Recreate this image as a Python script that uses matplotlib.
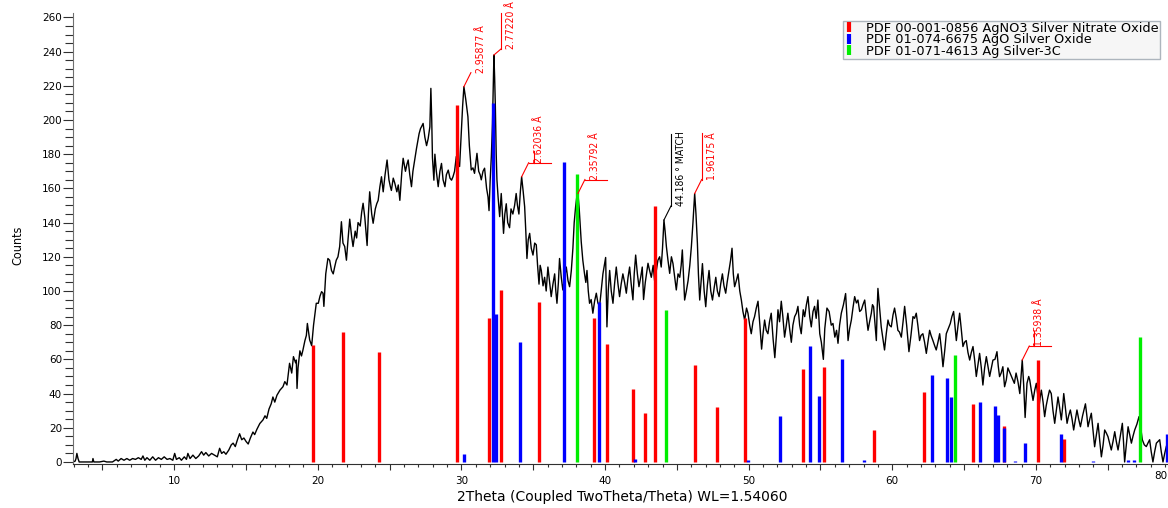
import matplotlib
matplotlib.use('Agg')
import matplotlib.pyplot as plt
from matplotlib.ticker import MultipleLocator, FuncFormatter
from matplotlib.lines import Line2D

# measured pattern (2theta in degrees, counts)
two_theta = [
    2.95, 3.1, 3.16, 3.22, 3.3, 3.38, 3.7, 4.0, 4.3, 4.34,
    4.4, 4.8, 5.1, 5.3, 5.7, 5.96, 6.1, 6.3, 6.5, 6.7,
    6.9, 7.1, 7.3, 7.5, 7.7, 7.82, 7.95, 8.1, 8.3, 8.5,
    8.7, 8.9, 9.1, 9.3, 9.5, 9.7, 9.9, 10.03, 10.15, 10.35,
    10.5, 10.7, 10.85, 10.95, 11.1, 11.3, 11.5, 11.7, 11.9, 12.05,
    12.2, 12.4, 12.6, 12.8, 13.0, 13.16, 13.3, 13.45, 13.6, 13.8,
    13.97, 14.1, 14.25, 14.4, 14.55, 14.7, 14.85, 15.0, 15.15, 15.3,
    15.48, 15.6, 15.75, 15.96,
    16.18, 16.32, 16.44, 16.6, 16.75, 16.87, 17.0, 17.15, 17.36, 17.57,
    17.7, 17.85, 18.03, 18.18, 18.3, 18.45, 18.5, 18.55, 18.62, 18.75,
    18.86, 18.96, 19.1, 19.2, 19.27, 19.35, 19.43, 19.57, 19.7, 19.8,
    19.89, 20.03, 20.15, 20.26, 20.36, 20.42, 20.55, 20.7, 20.82, 20.95,
    21.07, 21.17, 21.28, 21.4, 21.52, 21.64, 21.75, 21.87, 21.99, 22.1,
    22.22, 22.35, 22.45, 22.6, 22.7, 22.8, 22.95, 23.05, 23.15, 23.27,
    23.35, 23.43, 23.52, 23.61, 23.75, 23.85, 24.0, 24.1, 24.2, 24.32,
    24.43, 24.55, 24.68, 24.82, 24.95, 25.05, 25.12, 25.25, 25.36, 25.5,
    25.6, 25.71, 25.85, 25.94, 26.1, 26.2, 26.29, 26.4, 26.52, 26.62,
    26.75, 26.87, 26.97, 27.05, 27.15, 27.22, 27.33, 27.45, 27.57, 27.68,
    27.8, 27.87, 27.93, 27.98, 28.08, 28.15, 28.25, 28.38, 28.5, 28.61,
    28.72, 28.85, 28.95, 29.08, 29.2, 29.31, 29.41, 29.52, 29.64, 29.75,
    29.87, 30.0, 30.08, 30.17, 30.3, 30.45, 30.55, 30.68, 30.8, 30.91,
    31.0, 31.08, 31.2, 31.3, 31.38, 31.5, 31.61, 31.75, 31.85, 31.92,
    32.0, 32.08, 32.16, 32.2, 32.26, 32.31, 32.36, 32.42, 32.47, 32.55,
    32.66, 32.77, 32.85, 32.93, 33.02, 33.12, 33.22, 33.35, 33.45, 33.58,
    33.7, 33.81, 33.9, 34.0, 34.1, 34.19, 34.3, 34.4, 34.48, 34.56,
    34.65, 34.75, 34.86, 34.98, 35.1, 35.21, 35.3, 35.4, 35.48, 35.56,
    35.68, 35.79, 35.9, 36.02, 36.14, 36.25, 36.37, 36.49, 36.57, 36.65,
    36.75, 36.83, 36.95, 37.06, 37.18, 37.3, 37.42, 37.53, 37.65, 37.76,
    37.85, 37.95, 38.03, 38.11, 38.2, 38.34, 38.45, 38.57, 38.66, 38.74,
    38.83, 38.92, 39.03, 39.15, 39.27, 39.39, 39.5, 39.62, 39.73, 39.85,
    39.95, 40.04, 40.13, 40.22, 40.32, 40.43, 40.55, 40.66, 40.78, 40.9,
    41.01, 41.12, 41.24, 41.36, 41.48, 41.6, 41.71, 41.82, 41.94, 42.03,
    42.13, 42.25, 42.36, 42.48, 42.59, 42.68, 42.8, 42.99, 43.1, 43.22,
    43.35, 43.45, 43.57, 43.68, 43.8, 43.91, 44.0, 44.1, 44.18, 44.27,
    44.38, 44.5, 44.62, 44.73, 44.85, 44.96, 45.08, 45.2, 45.3, 45.38,
    45.46, 45.54, 45.66, 45.78, 45.9, 46.01, 46.12, 46.24, 46.33, 46.43,
    46.5, 46.59, 46.68, 46.78, 46.9, 47.01, 47.12, 47.24, 47.36, 47.48,
    47.6, 47.71, 47.82, 47.94, 48.05, 48.17, 48.28, 48.4, 48.5, 48.63,
    48.74, 48.84, 48.93, 49.02, 49.14, 49.26, 49.38, 49.49, 49.6, 49.72,
    49.85, 49.95, 50.07, 50.18, 50.3, 50.41, 50.53, 50.65, 50.78, 50.9,
    51.0, 51.11, 51.22, 51.34, 51.45, 51.57, 51.7, 51.82, 51.94, 52.04,
    52.15, 52.27, 52.38, 52.5, 52.62, 52.73, 52.85, 52.97, 53.08, 53.2,
    53.32, 53.43, 53.55, 53.66, 53.8, 53.9, 54.02, 54.13, 54.25, 54.36,
    54.48, 54.59, 54.7, 54.82, 54.95, 55.06, 55.2, 55.3, 55.45, 55.6,
    55.75, 55.87, 56.0, 56.12, 56.22, 56.33, 56.45, 56.6, 56.75, 56.84,
    56.92, 57.03, 57.15, 57.26, 57.38, 57.5, 57.61, 57.73, 57.85, 57.96,
    58.08, 58.2, 58.31, 58.42, 58.54, 58.62, 58.7, 58.8, 58.89, 58.95,
    59.0, 59.1, 59.23, 59.35, 59.46, 59.58, 59.7, 59.8, 59.93, 60.05,
    60.16, 60.28, 60.39, 60.5, 60.63, 60.75, 60.86, 61.0, 61.16, 61.3,
    61.44, 61.55, 61.67, 61.78, 61.9, 62.0, 62.13, 62.25, 62.37, 62.48,
    62.6, 62.7, 62.83, 62.95, 63.06, 63.18, 63.3, 63.42, 63.53, 63.65,
    63.76, 63.9, 64.04, 64.15, 64.27, 64.36, 64.46, 64.58, 64.69, 64.8,
    64.92, 65.03, 65.15, 65.27, 65.39, 65.5, 65.62, 65.73, 65.85, 65.97,
    66.08, 66.2, 66.31, 66.43, 66.55, 66.66, 66.78, 66.9, 67.01, 67.15,
    67.29, 67.38, 67.47, 67.58, 67.7, 67.82, 67.94, 68.05, 68.2, 68.35,
    68.5, 68.62, 68.75, 68.88, 68.97, 69.05, 69.15, 69.25, 69.38, 69.5,
    69.57, 69.68, 69.8, 69.92, 70.03, 70.12, 70.22, 70.3, 70.38, 70.5,
    70.61, 70.72, 70.84, 70.95, 71.07, 71.19, 71.31, 71.42, 71.54, 71.65,
    71.77, 71.86, 71.94, 72.05, 72.17, 72.28, 72.4, 72.52, 72.63, 72.75,
    72.86, 72.98, 73.1, 73.25, 73.45, 73.55, 73.63, 73.75, 73.86, 73.98,
    74.09, 74.2, 74.33, 74.45, 74.56, 74.68, 74.79, 74.9, 75.02, 75.13,
    75.25, 75.37, 75.49, 75.6, 75.72, 75.87, 76.02, 76.1, 76.18, 76.3,
    76.42, 76.53, 76.65, 76.76, 76.88, 77.03, 77.18, 77.3, 77.41, 77.55,
    77.69, 77.8, 77.92, 78.03, 78.15, 78.27, 78.39, 78.5, 78.62, 78.73,
    78.85, 78.97, 79.08, 79.2, 79.35, 79.5, 79.7, 80.0,
]
counts = [
    0, 0.5, 2, 5, 2, 0, 0, 0, 0, 2,
    0, 0, 0.5, 0, 0, 1.5, 0.5, 2, 1, 2,
    1, 2, 1.5, 2.5, 1.5, 3.5, 1, 2.5, 1, 3,
    1, 2.5, 1.5, 3, 1.5, 2, 1, 5, 1.5, 2.5,
    1, 3, 1.5, 5, 2, 4, 2, 3.5, 6, 4,
    5.5, 3.5, 5, 4, 3, 8, 5, 6, 4.5, 7,
    10, 11, 9, 13, 16.5, 13, 14, 12, 10.5, 14,
    17.5, 16, 19, 22.5,
    24.6, 27, 25.5, 31, 34, 38, 35, 39, 42, 44,
    47, 45, 57.7, 52, 61.6, 58, 59.6, 43, 55, 65,
    62, 65.4, 71, 74, 81, 76, 71.4, 68, 80, 87,
    92.8, 92.8, 97, 99.6, 98.7, 91, 110, 119, 118, 112,
    110, 114, 118, 120, 126, 140.5, 128, 126, 118, 130,
    142, 132, 126, 135, 131, 140, 138, 146, 151.3, 143,
    135, 126.6, 145, 158, 145, 139.6, 148, 151, 153, 161,
    166.8, 158, 168, 176.6, 165, 161, 158.8, 166, 163, 158,
    162, 153, 170, 177.6, 170, 174, 176.6, 168, 161, 170,
    177, 183.4, 188, 192, 195, 196.1, 198, 190, 185, 189,
    196, 218.5, 200, 178, 164.8, 180, 170, 161, 170, 174.6,
    165, 161, 168, 170.7, 166, 164.8, 166.8, 170, 178.6, 176,
    172.8, 195, 208, 219.5, 212, 201.9, 185, 170.8, 172, 168.8,
    175, 180.5, 170, 168, 165, 170, 171.8, 160, 155, 147,
    165, 178.6, 198, 215, 238, 225, 207.8, 180, 165, 155,
    143.5, 157, 145, 133.7, 145, 151, 140, 137, 148, 145,
    150, 157, 150, 145, 158, 166.8, 158, 149.3, 135, 119,
    130, 133.7, 125, 121, 128, 127, 115, 104, 115, 112,
    103, 108, 100, 114, 105, 96.7, 104, 110, 100, 92.8,
    105, 119, 108, 100.6, 108, 114, 106, 102.5, 112, 125,
    140, 149.3, 155, 157, 148, 128.8, 118, 110, 105, 112,
    100, 92.8, 95, 87, 94, 98.7, 93, 91, 100, 110,
    115, 119.6, 79, 100, 112, 100, 92.8, 104, 114, 104,
    96.7, 104, 110, 105, 98.7, 108, 114, 104, 94.8, 110,
    121, 110, 102.5, 108, 114, 95, 105, 116.2, 112, 108,
    115, 106, 112, 118, 120, 114, 125, 141.5, 135, 126,
    118, 110.3, 120, 116, 108, 100.6, 110, 108, 115, 124,
    110, 94.7, 100, 106, 115, 126, 140, 157, 145, 127.8,
    110, 94.7, 105, 116, 100, 90.8, 103, 112, 100, 94.7,
    102, 108, 100, 96.7, 104, 110, 103, 98.7, 105, 112,
    118, 125, 110, 102.5, 106, 110, 100, 94.7, 88, 83,
    90, 87, 80, 75, 82, 85, 90, 94, 80, 66,
    75, 83, 77, 75, 82, 87, 72, 61, 75, 89,
    82, 94, 85, 73, 80, 87, 78, 70, 80, 85,
    87, 91, 80, 75, 89, 85, 92, 96.7, 85, 79,
    88, 91, 84, 94.7, 75, 70, 60, 78, 90, 88,
    80, 81, 73, 77, 69.4, 80, 87, 92, 98.5, 85,
    71, 78, 83, 90, 96.7, 93, 94.7, 88, 89, 92,
    94.7, 85, 77, 82, 87, 92, 90.8, 80, 71, 90,
    101.5, 92, 79, 72, 65.5, 75, 83, 80, 79, 86,
    90, 84, 77, 76, 73, 82, 91, 80, 64.5, 74,
    85, 84, 87, 80, 71, 74, 75, 70, 63.5, 70,
    77, 74, 71, 68, 65.5, 70, 75, 66, 55.7, 65,
    75, 78, 81, 85, 88, 80, 71, 80, 87, 78,
    67.5, 70, 71, 64, 59.6, 64, 67.5, 60, 50, 57,
    63.5, 55, 45, 55, 61.6, 56, 50, 55, 59.6, 60,
    64.5, 56, 49.9, 52, 55.7, 44, 48, 55, 52, 49,
    46, 52, 47, 40, 50, 59.6, 45, 26, 46, 50,
    48, 42, 36, 42, 46, 40, 32.3, 38, 42, 35,
    26.5, 33, 38, 42, 40, 30, 22.6, 30, 38, 32,
    24.6, 32, 40, 32, 22.6, 27, 30.4, 25, 18.7, 25,
    30.4, 25, 20.6, 27, 34, 27, 20.6, 25, 28.5, 18,
    8.9, 15, 22.6, 12, 3, 10, 18.7, 17, 14.8, 11,
    7, 12, 17.7, 12, 7, 15, 22.6, 12, 0, 10,
    20.6, 16, 11, 15, 18.7, 22, 26.5, 20, 13, 10,
    9, 11, 13, 6, 0, 6, 11, 12, 13, 6,
    0, 5, 9, 12, 6, 10, 4, 8,
]

# reference sticks
agno3_pos = [19.64, 21.75, 24.25, 29.71, 31.89, 32.75, 35.42, 39.25, 40.15, 41.94,
             42.8, 43.45, 46.24, 47.79, 49.74, 53.8, 55.22, 58.7, 62.2, 65.62,
             67.8, 70.12, 71.98]
agno3_int = [68.4, 76, 64.3, 208.8, 84.2, 100.6, 93.6, 84.2, 69, 42.7,
             28.7, 149.9, 56.7, 32.2, 84.4, 54.6, 55.6, 18.7, 41, 34.1,
             21.2, 59.6, 13.5]
ago_pos = [30.2, 32.21, 32.38, 34.05, 37.14, 39.58, 42.1, 49.93, 52.16, 54.25,
           54.92, 56.5, 58.05, 62.77, 63.79, 64.09, 66.13, 67.15, 67.38, 67.76,
           68.55, 69.22, 71.75, 73.96, 76.43, 76.85, 79.1]
ago_int = [4.4, 210, 86.4, 70, 175.6, 93.4, 1.5, 1, 26.9, 67.8,
           38.8, 60.2, 1, 50.9, 49.1, 37.8, 35.1, 32.7, 27.5, 20.1,
           0.8, 11.3, 16.4, 0.8, 1, 1, 16.4]
ag_pos = [38.04, 44.24, 64.35, 77.27]
ag_int = [168.4, 88.7, 62.4, 72.9]

phase_names = ["PDF 00-001-0856 AgNO3 Silver Nitrate Oxide",
               "PDF 01-074-6675 AgO Silver Oxide",
               "PDF 01-071-4613 Ag Silver-3C"]

# peak labels
peak_pos = [30.17, 32.26, 34.19, 38.11, 44.1, 46.24, 69.05]
peak_cts = [219.5, 238, 166.8, 157, 141.5, 157, 59.6]
peak_txt = ["2.95877 Å", "2.77220 Å", "2.62036 Å", "2.35792 Å",
            "44.186 ° MATCH", "1.96175 Å", "1.35938 Å"]

narrow = dict(family='DejaVu Sans', stretch='condensed')

fig = plt.figure(figsize=(11.68, 5.08), dpi=100)
ax = fig.add_axes([73 / 1168, 1 - 463.5 / 508, 1106.5 / 1168, 450.2 / 508])

ax.plot(two_theta, counts, color='black', lw=1.0, zorder=2)
ax.vlines(agno3_pos, 0, agno3_int, color='#ff0000', lw=2.4, zorder=3)
ax.vlines(ago_pos, 0, ago_int, color='#0000ff', lw=2.4, zorder=4)
ax.vlines(ag_pos, 0, ag_int, color='#00ee00', lw=2.4, zorder=5)

ax.set_xlim(2.95, 80)
ax.set_ylim(-0.9, 262.4)

for s in ['top', 'right']:
    ax.spines[s].set_visible(False)
ax.spines['left'].set_color('#707070')
ax.spines['bottom'].set_color('#303030')

ax.yaxis.set_major_locator(MultipleLocator(20))
ax.yaxis.set_minor_locator(MultipleLocator(5))
ax.xaxis.set_major_locator(MultipleLocator(5))
ax.xaxis.set_minor_locator(MultipleLocator(1))
# last label (80) sits at the figure edge, drawn separately below
ax.xaxis.set_major_formatter(FuncFormatter(lambda v, p: '%d' % v if v % 10 == 0 and v < 80 else ''))
ax.tick_params(axis='y', which='major', length=7, width=0.8, pad=1, labelsize=7.5, color='#303030')
ax.tick_params(axis='y', which='minor', length=5.5, width=0.8, color='#303030')
ax.tick_params(axis='x', which='major', length=4, width=0.8, pad=5, labelsize=7.5, color='#303030')
ax.tick_params(axis='x', which='minor', length=2.5, width=0.8, color='#303030')
fig.text(1167 / 1168, 1 - 476 / 508, '80', ha='right', va='center', fontsize=7.5)

# peak markers with leader lines
bb = ax.get_window_extent()
sx = (80 - 2.95) / bb.width
sy = (262.4 + 0.9) / bb.height
rise = [14, 6, 14, 14, 14, 14, 14]
vlen = [0, 36, 12, 0, 72, 47, 15]
voff = [0, 0, 5, 0, 0, 0, 5]
hlen = [0, 0, 22, 22, 0, 0, 22]
for i in range(len(peak_pos)):
    c = 'black' if 'MATCH' in peak_txt[i] else '#ff0000'
    x0, y0 = peak_pos[i], peak_cts[i]
    xa, ya = x0 + 7 * sx, y0 + rise[i] * sy
    ax.plot([x0, xa], [y0, ya], color=c, lw=0.8, clip_on=False, zorder=6)
    if vlen[i]:
        xv = xa + voff[i] * sx
        ax.plot([xv, xv], [ya, ya + vlen[i] * sy], color=c, lw=0.8, clip_on=False, zorder=6)
    if hlen[i]:
        ax.plot([xa, xa + hlen[i] * sx], [ya, ya], color=c, lw=0.8, clip_on=False, zorder=6)
    ax.text(xa + 5 * sx, ya, peak_txt[i], rotation=90, ha='left', va='bottom',
            color=c, fontsize=7.5, clip_on=False, zorder=6, **narrow)

handles = [Line2D([], [], color=c, marker='|', linestyle='None', markersize=7, markeredgewidth=3)
           for c in ['#ff0000', '#0000ff', '#00ee00']]
leg = fig.legend(handles, phase_names, loc='upper left', bbox_to_anchor=(842.7 / 1168, 1 - 20.7 / 508),
                 fontsize=9.3, frameon=True, fancybox=False, borderpad=0.1, labelspacing=-0.12,
                 handlelength=0.8, handletextpad=0.9, borderaxespad=0)
leg.get_frame().set_facecolor('#f4f4f4')
leg.get_frame().set_edgecolor('#9aa4ae')
leg.get_frame().set_linewidth(1.0)

fig.text(18 / 1168, 1 - 245 / 508, 'Counts', rotation=90, ha='center', va='center',
         fontsize=9, **narrow)
fig.text(622 / 1168, 1 - 497 / 508, '2Theta (Coupled TwoTheta/Theta) WL=1.54060',
         ha='center', va='center', fontsize=10)

fig.savefig('out.png', dpi=100)
plt.close(fig)
